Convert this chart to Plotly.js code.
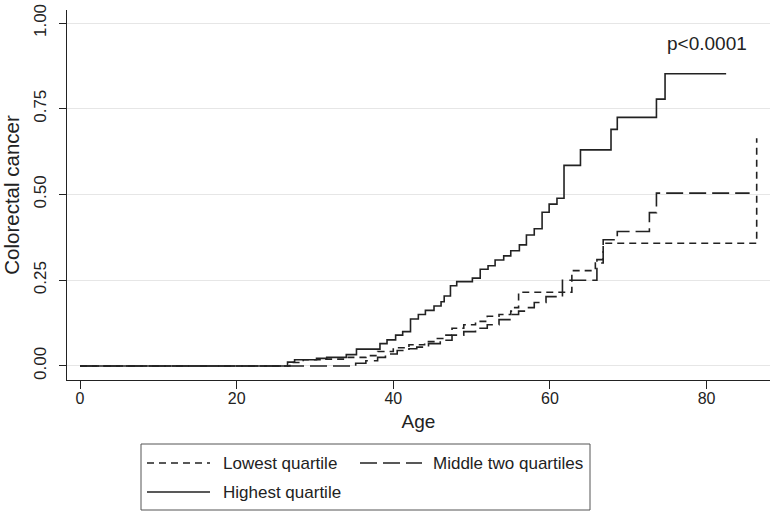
<!DOCTYPE html>
<html>
<head>
<meta charset="utf-8">
<script src="https://cdn.plot.ly/plotly-3.0.1.min.js"></script>
<style>html,body{margin:0;padding:0;background:#fff;}#chart{width:774px;height:515px;}</style>
</head>
<body>
<div id="chart"></div>
<script>
// ---- data (Kaplan-Meier style step curves) ----
const seriesNames = ["Lowest quartile", "Middle two quartiles", "Highest quartile"];

const lowestAge = [0, 26.8, 28.5, 31, 34, 36.5, 38, 40, 42, 44, 45.5, 46.5, 47.5, 49, 50.5, 52, 53.5, 55, 55.5, 56, 62.8, 65.8, 66.8, 86.4];
const lowestVal = [0, 0.010, 0.018, 0.020, 0.025, 0.030, 0.042, 0.053, 0.062, 0.071, 0.080, 0.090, 0.110, 0.120, 0.130, 0.145, 0.150, 0.160, 0.170, 0.215, 0.278, 0.300, 0.358, 0.664];

const middleAge = [0, 35.2, 36.5, 38, 39, 40.5, 42, 43, 44.5, 46, 47.5, 49, 50.5, 52, 53.5, 55, 56, 57, 58, 59.5, 61.6, 66.0, 66.8, 68.6, 72.7, 73.6, 85.5];
const middleVal = [0, 0.008, 0.015, 0.025, 0.035, 0.045, 0.050, 0.055, 0.065, 0.075, 0.090, 0.100, 0.110, 0.120, 0.135, 0.150, 0.160, 0.170, 0.185, 0.202, 0.250, 0.310, 0.368, 0.392, 0.447, 0.504, 0.504];

const highestAge = [0, 26.5, 27.4, 30.2, 31.5, 34, 35.3, 38.3, 39.2, 40.3, 41.2, 42.2, 43.2, 44.1, 45.2, 46.1, 46.5, 47.3, 48.1, 50.1, 51.1, 52.1, 53, 54.1, 55, 56.1, 57, 58, 59, 59.9, 60.9, 61.8, 63.9, 67.8, 68.6, 73.6, 74.7, 82.5];
const highestVal = [0, 0.011, 0.018, 0.022, 0.025, 0.033, 0.049, 0.065, 0.076, 0.090, 0.100, 0.137, 0.150, 0.162, 0.175, 0.187, 0.204, 0.234, 0.246, 0.256, 0.282, 0.292, 0.309, 0.321, 0.336, 0.353, 0.382, 0.400, 0.448, 0.472, 0.489, 0.585, 0.630, 0.690, 0.725, 0.778, 0.852, 0.852];

const xTicks = [0, 20, 40, 60, 80];
const yTicks = [0, 0.25, 0.5, 0.75, 1];
const yTickText = ["0.00", "0.25", "0.50", "0.75", "1.00"];
const pValueText = "p<0.0001";

// ---- styling ----
const FONT = "Liberation Sans, Arial, Helvetica, sans-serif";
const INK = "#222222";
const dashes = ["7px,5px", "17px,6px", "solid"];

const M = {l: 67, r: 4, t: 10, b: 135};
const W = 774, H = 515;
const pw = W - M.l - M.r, ph = H - M.t - M.b;
const px2x = p => (p - M.l) / pw;
const px2y = p => (H - M.b - p) / ph;

const ages = [lowestAge, middleAge, highestAge];
const vals = [lowestVal, middleVal, highestVal];

const traces = seriesNames.map((n, i) => ({
  x: ages[i], y: vals[i], name: n, type: "scatter", mode: "lines",
  line: {shape: "hv", color: INK, width: 1.6, dash: dashes[i]},
  showlegend: false, hoverinfo: "skip"
}));

// manual legend (box, samples, labels) placed in paper space
const legendSlots = [
  {x0: 147, x1: 210, tx: 221, y: 463},
  {x0: 360, x1: 422, tx: 431, y: 463},
  {x0: 147, x1: 210, tx: 221, y: 492}
];
const shapes = [{
  type: "rect", xref: "paper", yref: "paper",
  x0: px2x(141), x1: px2x(590), y0: px2y(444), y1: px2y(510),
  line: {color: "#555", width: 1}, fillcolor: "rgba(0,0,0,0)"
}];
const annotations = [{
  text: pValueText, x: 80, y: 0.94, xref: "x", yref: "y",
  showarrow: false, font: {family: FONT, size: 19, color: INK}
}];
legendSlots.forEach((s, i) => {
  shapes.push({
    type: "line", xref: "paper", yref: "paper",
    x0: px2x(s.x0), x1: px2x(s.x1), y0: px2y(s.y), y1: px2y(s.y),
    line: {color: INK, width: 1.6, dash: dashes[i]}
  });
  annotations.push({
    text: seriesNames[i], xref: "paper", yref: "paper",
    x: px2x(s.tx), y: px2y(s.y), xanchor: "left", yanchor: "middle",
    showarrow: false, font: {family: FONT, size: 17, color: INK}
  });
});

const layout = {
  width: W, height: H,
  margin: M,
  paper_bgcolor: "#ffffff", plot_bgcolor: "#ffffff",
  font: {family: FONT, color: INK},
  showlegend: false,
  xaxis: {
    range: [-1.66, 88.1], tickvals: xTicks, ticks: "outside", ticklen: 8,
    tickcolor: INK, tickwidth: 1, showline: true, linecolor: INK, linewidth: 1,
    showgrid: false, zeroline: false, ticklabelstandoff: -4,
    tickfont: {family: FONT, size: 16, color: INK},
    title: {text: "Age", font: {family: FONT, size: 19, color: INK}, standoff: 8}
  },
  yaxis: {
    range: [-0.041, 1.038], tickvals: yTicks, ticktext: yTickText, ticks: "outside",
    ticklen: 7, tickcolor: INK, tickwidth: 1, tickangle: -90, ticklabelstandoff: 6,
    showline: true, linecolor: INK, linewidth: 1,
    showgrid: true, gridcolor: "#e6e6e6", gridwidth: 1, zeroline: false,
    tickfont: {family: FONT, size: 17, color: INK},
    title: {text: "Colorectal cancer", font: {family: FONT, size: 20.5, color: INK}, standoff: 6}
  },
  shapes: shapes,
  annotations: annotations
};

Plotly.newPlot("chart", traces, layout, {displayModeBar: false, staticPlot: true});
</script>
</body>
</html>
